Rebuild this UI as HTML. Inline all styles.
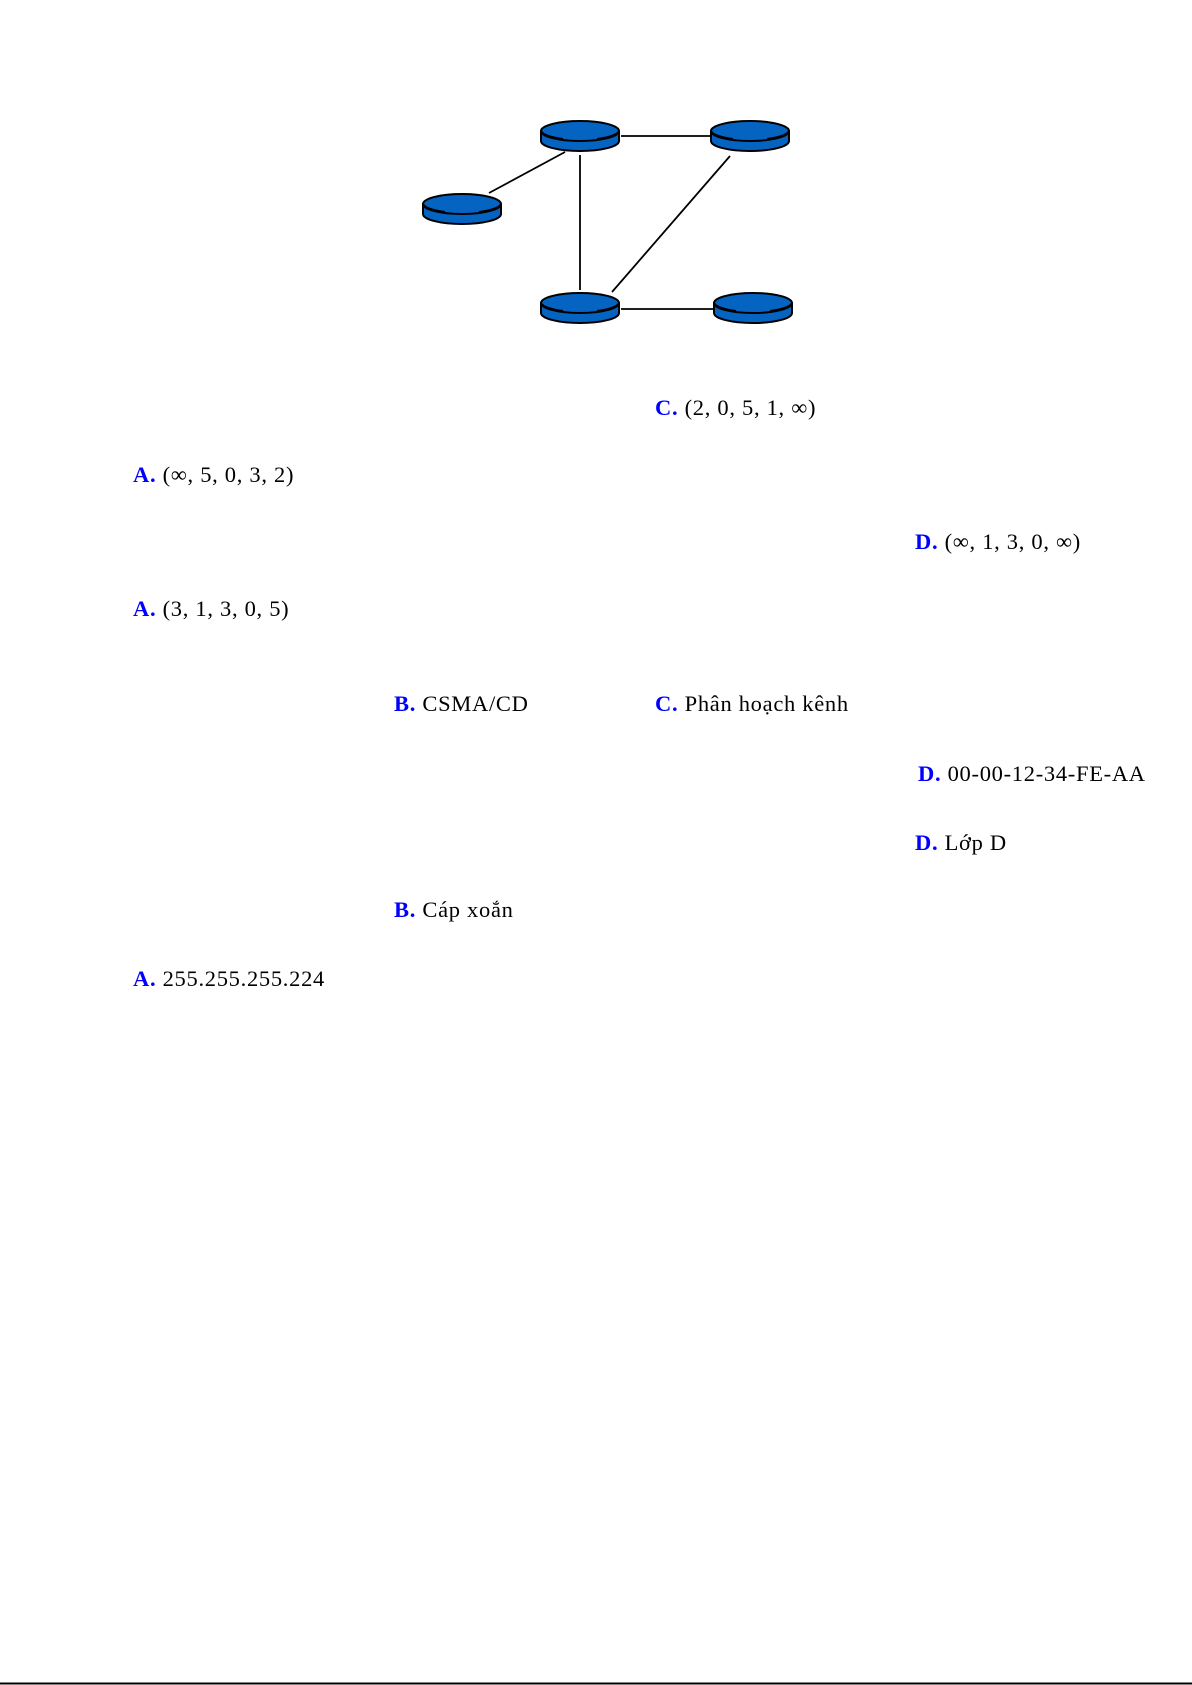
<!DOCTYPE html>
<html><head><meta charset="utf-8"><style>
html,body{margin:0;padding:0;background:#fff}
svg{display:block}
text{font-family:"Liberation Serif",serif;font-size:22.5px;fill:#000;letter-spacing:0.7px}
.b{fill:#0000ff;font-weight:bold}
</style></head><body>
<svg width="1192" height="1685" viewBox="0 0 1192 1685">
<defs>
<g id="r">
<path d="M-39,0 v10 a39,10 0 0 0 78,0 v-10" fill="#0563c1" stroke="#000" stroke-width="2"/>
<ellipse cx="0" cy="0" rx="39" ry="10" fill="#0563c1" stroke="#000" stroke-width="2"/>
<path d="M-17,8 a39,10 0 0 1 -22,-8 M17,8 a39,10 0 0 0 22,-8" fill="none" stroke="#000" stroke-width="2"/>
</g>
</defs>
<g stroke="#000" stroke-width="1.8">
<line x1="621" y1="136" x2="712" y2="136"/>
<line x1="580" y1="155" x2="580" y2="290"/>
<line x1="489" y1="193" x2="565" y2="152"/>
<line x1="730" y1="156" x2="612" y2="292"/>
<line x1="621" y1="309" x2="714" y2="309"/>
</g>
<use href="#r" x="580" y="131"/>
<use href="#r" x="750" y="131"/>
<use href="#r" x="462" y="204"/>
<use href="#r" x="580" y="303"/>
<use href="#r" x="753" y="303"/>
<text x="655" y="415"><tspan class="b">C.</tspan> (2, 0, 5, 1, ∞)</text>
<text x="133" y="482"><tspan class="b">A.</tspan> (∞, 5, 0, 3, 2)</text>
<text x="915" y="549"><tspan class="b">D.</tspan> (∞, 1, 3, 0, ∞)</text>
<text x="133" y="616"><tspan class="b">A.</tspan> (3, 1, 3, 0, 5)</text>
<text x="394" y="711"><tspan class="b">B.</tspan> CSMA/CD</text>
<text x="655" y="711"><tspan class="b">C.</tspan> Phân hoạch kênh</text>
<text x="918" y="781"><tspan class="b">D.</tspan> 00-00-12-34-FE-AA</text>
<text x="915" y="850"><tspan class="b">D.</tspan> Lớp D</text>
<text x="394" y="917"><tspan class="b">B.</tspan> Cáp xoắn</text>
<text x="133" y="986"><tspan class="b">A.</tspan> 255.255.255.224</text>
<line x1="0" y1="1683.5" x2="1192" y2="1683.5" stroke="#000" stroke-width="2"/>
</svg>
</body></html>
